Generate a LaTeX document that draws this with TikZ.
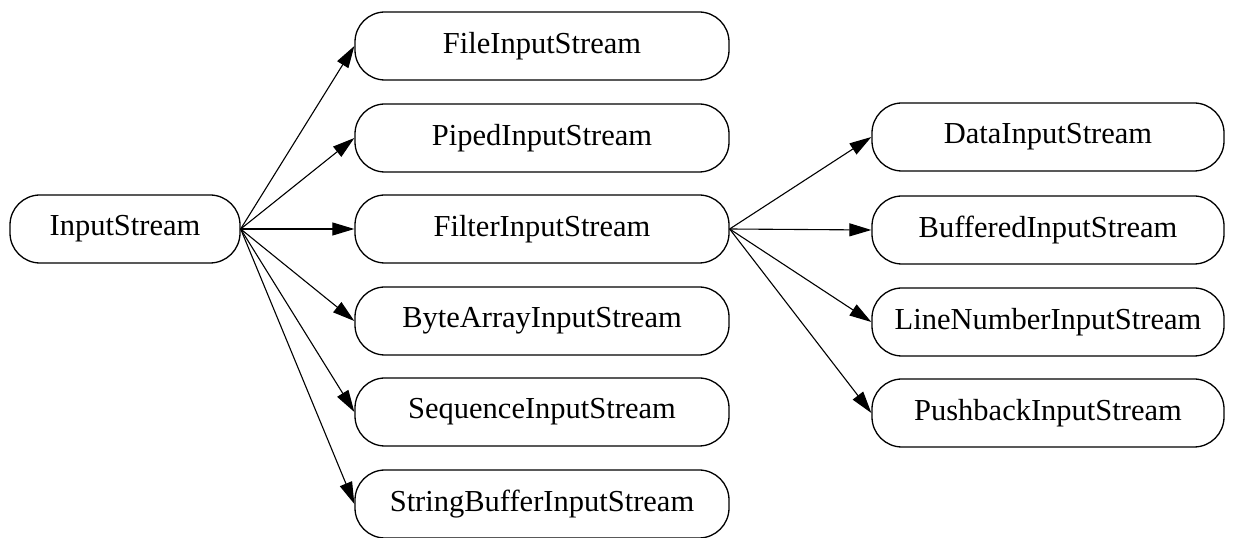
\documentclass[tikz,border=0pt]{standalone}
\usepackage{fontspec}
\setmainfont{Liberation Serif}
\usetikzlibrary{arrows.meta}
\begin{document}
\begin{tikzpicture}[x=1pt,y=1pt,
  cls/.style={draw,line width=1.3pt,rounded corners=30pt,minimum height=68pt,inner sep=0pt,
     font=\fontsize{30.5}{31}\selectfont},
  lcol/.style={cls,minimum width=230pt},
  mcol/.style={cls,minimum width=374pt},
  rcol/.style={cls,minimum width=352pt},
  edge/.style={line width=1.1pt,-{Triangle[length=22pt,width=13pt]}}]
\useasboundingbox (0,0) rectangle (1237,538);
\node[lcol] (is) at (125,309) {InputStream};
\node[mcol] (fis) at (542,492) {FileInputStream};
\node[mcol] (pis) at (542,400) {PipedInputStream};
\node[mcol] (fil) at (542,309) {FilterInputStream};
\node[mcol] (bais) at (542,217) {ByteArrayInputStream};
\node[mcol] (sis) at (542,126) {SequenceInputStream};
\node[mcol] (sbis) at (542,34) {StringBufferInputStream};
\node[rcol] (dis) at (1048,401) {DataInputStream};
\node[rcol] (bis) at (1048,308) {BufferedInputStream};
\node[rcol] (lnis) at (1048,216) {LineNumberInputStream};
\node[rcol] (pbis) at (1048,125) {PushbackInputStream};
\foreach \t in {fis,pis,fil,bais,sis,sbis} \draw[edge] (is.east) -- (\t.west);
\foreach \t in {dis,bis,lnis,pbis} \draw[edge] (fil.east) -- (\t.west);
\end{tikzpicture}
\end{document}
